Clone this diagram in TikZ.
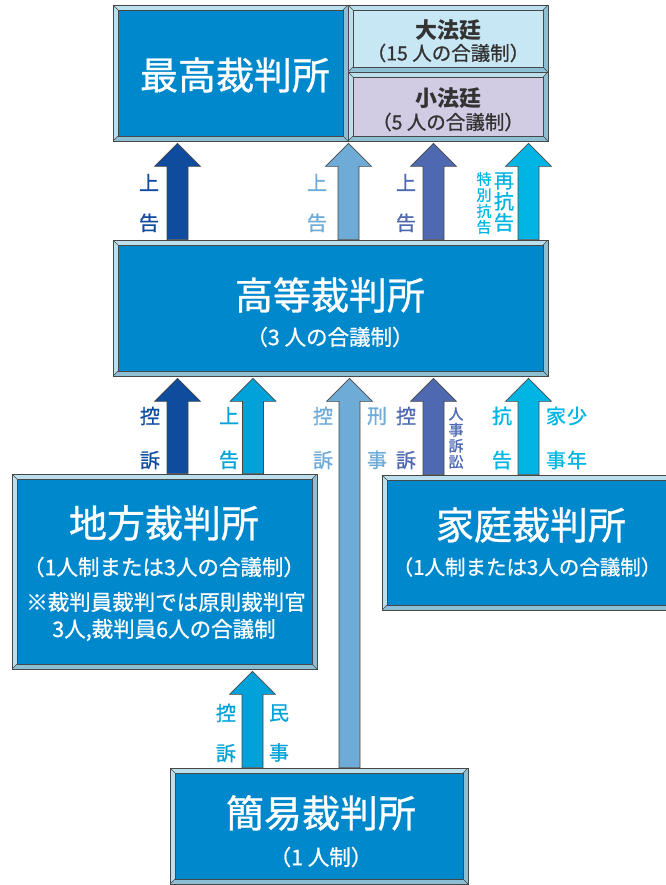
\documentclass[tikz,border=0pt]{standalone}
\usepackage{fontspec}
\setmainfont{Noto Sans CJK JP}
\newfontfamily\thickfont{Noto Sans CJK JP}[FakeBold=0.9]
\usetikzlibrary{calc}

\definecolor{CourtHex}{HTML}{0088CC}
\definecolor{BevelLight}{HTML}{BBDFEC}
\definecolor{BevelDark}{HTML}{8CBFD3}
\definecolor{EdgeGray}{HTML}{474747}
\definecolor{GrandHex}{HTML}{C8E7F5}
\definecolor{PettyHex}{HTML}{D1CCE3}
\definecolor{DarkHex}{HTML}{0F4C9E}
\definecolor{LightHex}{HTML}{6FABD7}
\definecolor{IndigoHex}{HTML}{4F69B1}
\definecolor{CyanHex}{HTML}{00B5E3}
\definecolor{MidHex}{HTML}{00A2D9}
\definecolor{PanelText}{HTML}{333333}

\tikzset{
  court/.style={draw=EdgeGray, line width=0.7pt, fill=BevelDark, inner sep=0pt,
    path picture={
      \coordinate (pp-sw) at (path picture bounding box.south west);
      \coordinate (pp-nw) at (path picture bounding box.north west);
      \coordinate (pp-ne) at (path picture bounding box.north east);
      \coordinate (pp-se) at (path picture bounding box.south east);
      \fill[BevelLight] (pp-sw) -- (pp-nw) -- (pp-ne) -- ([shift={(-5pt,-5pt)}]pp-ne)
        -- ([shift={(5pt,-5pt)}]pp-nw) -- ([shift={(5pt,5pt)}]pp-sw) -- cycle;
      \filldraw[fill=#1, draw=EdgeGray, line width=0.5pt]
        ([shift={(5pt,5pt)}]pp-sw) rectangle ([shift={(-5pt,-5pt)}]pp-ne);
      \draw[EdgeGray, line width=0.5pt] (pp-sw) -- +(5pt,5pt) (pp-nw) -- +(5pt,-5pt)
        (pp-ne) -- +(-5pt,-5pt) (pp-se) -- +(-5pt,5pt);
    }},
  court/.default=CourtHex,
  title/.style={text=white, inner sep=0pt, font=\thickfont\fontsize{38}{40}\selectfont},
  subtitle/.style={text=white, inner sep=0pt, font=\thickfont\fontsize{21.5}{24}\selectfont},
  panel/.style={text=PanelText, inner sep=0pt, font=\thickfont\fontsize{19.5}{22}\selectfont},
  tag/.style={inner sep=0pt, align=center, font=\thickfont\fontsize{20}{40}\selectfont},
  midtag/.style={inner sep=0pt, align=center, font=\thickfont\fontsize{20}{44}\selectfont},
  smalltag/.style={inner sep=0pt, align=center, font=\thickfont\fontsize{15}{16}\selectfont},
  arr/.style={draw=EdgeGray, line width=0.6pt},
}

% big up arrow: colour, x, from node, to node
\newcommand\courtarrow[4]{%
  \filldraw[arr, fill=#1] let \p1=(#3.north), \p2=(#4.south) in
    (#2pt-10.5pt,\y1) -- (#2pt-10.5pt,\y2-25pt) -- (#2pt-23pt,\y2-25pt) -- (#2pt,\y2-2pt)
    -- (#2pt+23pt,\y2-25pt) -- (#2pt+10.5pt,\y2-25pt) -- (#2pt+10.5pt,\y1) -- cycle;
}

\begin{document}
\begin{tikzpicture}[x=1pt, y=-1pt]

 \useasboundingbox (0,0) rectangle (665,885);

 %%%%%%%%%% Courts %%%%%%%%%%
 \node[court, minimum width=235, minimum height=136] (sc) at (230.5,73) {};
 \node[court=GrandHex, minimum width=200, minimum height=67] (grand) at (448,38.5) {};
 \node[court=PettyHex, minimum width=200, minimum height=69] (petty) at (448,106.5) {};
 \node[court, minimum width=435, minimum height=136] (hc) at (330.5,308) {};
 \node[court, minimum width=305, minimum height=195] (dc) at (164.5,571.5) {};
 \node[court, minimum width=298, minimum height=135] (fc) at (531,542.5) {};
 \node[court, minimum width=298, minimum height=116] (sm) at (319,826) {};

 % Texts of the courts
 \node[title] (sc-t) at (235,75) {最高裁判所};
 \node[panel, font=\fontsize{22}{24}\bfseries] (grand-t) at (448,30) {大法廷};
 \node[panel] (grand-s) at (448,53) {（15 人の合議制）};
 \node[panel, font=\fontsize{22}{24}\bfseries] (petty-t) at (448,98) {小法廷};
 \node[panel] (petty-s) at (448,122) {（5 人の合議制）};

 \node[title] (hc-t) at (330,295) {高等裁判所};
 \node[subtitle] (hc-s) at (330,337) {（3 人の合議制）};

 \node[title] (dc-t) at (164,523) {地方裁判所};
 \node[subtitle] (dc-s) at (164,567) {（1人制または3人の合議制）};
 \node[subtitle] (dc-n1) at (166,602) {※裁判員裁判では原則裁判官};
 \node[subtitle] (dc-n2) at (164,630) {3人,裁判員6人の合議制};

 \node[title] (fc-t) at (531,525) {家庭裁判所};
 \node[subtitle, font=\thickfont\fontsize{20.5}{24}\selectfont] (fc-s) at (527,567) {（1人制または3人の合議制）};

 \node[title] (sm-t) at (321,813) {簡易裁判所};
 \node[subtitle] (sm-s) at (321,857) {（1 人制）};

 %%%%%%%%%% Arrows %%%%%%%%%%
 % to the supreme court
 \courtarrow{DarkHex}{177.5}{hc}{sc}
 \courtarrow{LightHex}{348.5}{hc}{sc}
 \courtarrow{IndigoHex}{433.5}{hc}{petty}
 \courtarrow{CyanHex}{528.5}{hc}{petty}

 % to the high court
 \courtarrow{DarkHex}{177.5}{dc}{hc}
 \courtarrow{MidHex}{253}{dc}{hc}
 \courtarrow{LightHex}{349.5}{sm}{hc}
 \courtarrow{IndigoHex}{433.5}{fc}{hc}
 \courtarrow{CyanHex}{528.5}{fc}{hc}

 % to the district court
 \courtarrow{MidHex}{252.5}{sm}{dc}

 %%%%%%%%%% Labels %%%%%%%%%%
 \node[tag, text=DarkHex] (a1) at (149,203) {上\\告};
 \node[tag, text=LightHex] (a2) at (317,203) {上\\告};
 \node[tag, text=IndigoHex] (a3) at (406,203) {上\\告};
 \node[smalltag, text=CyanHex] (a4) at (484,203) {特\\別\\抗\\告};
 \node[tag, font=\thickfont\fontsize{20}{21}\selectfont, text=CyanHex] (a5) at (504,202) {再\\抗\\告};

 \node[midtag, text=DarkHex] (b1) at (150,438) {控\\訴};
 \node[midtag, text=MidHex] (b2) at (229,438) {上\\告};
 \node[midtag, text=LightHex] (b3) at (323,438) {控\\訴};
 \node[midtag, text=LightHex] (b4) at (377,438) {刑\\事};
 \node[midtag, text=IndigoHex] (b5) at (406,438) {控\\訴};
 \node[smalltag, text=IndigoHex] (b6) at (456,438) {人\\事\\訴\\訟};
 \node[midtag, text=CyanHex] (b7) at (502,438) {抗\\告};
 \node[midtag, text=CyanHex] (b8) at (556,438) {家\\事};
 \node[midtag, text=CyanHex] (b9) at (577,438) {少\\年};

 \node[tag, text=MidHex] (c1) at (226,733) {控\\訴};
 \node[tag, text=MidHex] (c2) at (279,733) {民\\事};

\end{tikzpicture}
\end{document}
